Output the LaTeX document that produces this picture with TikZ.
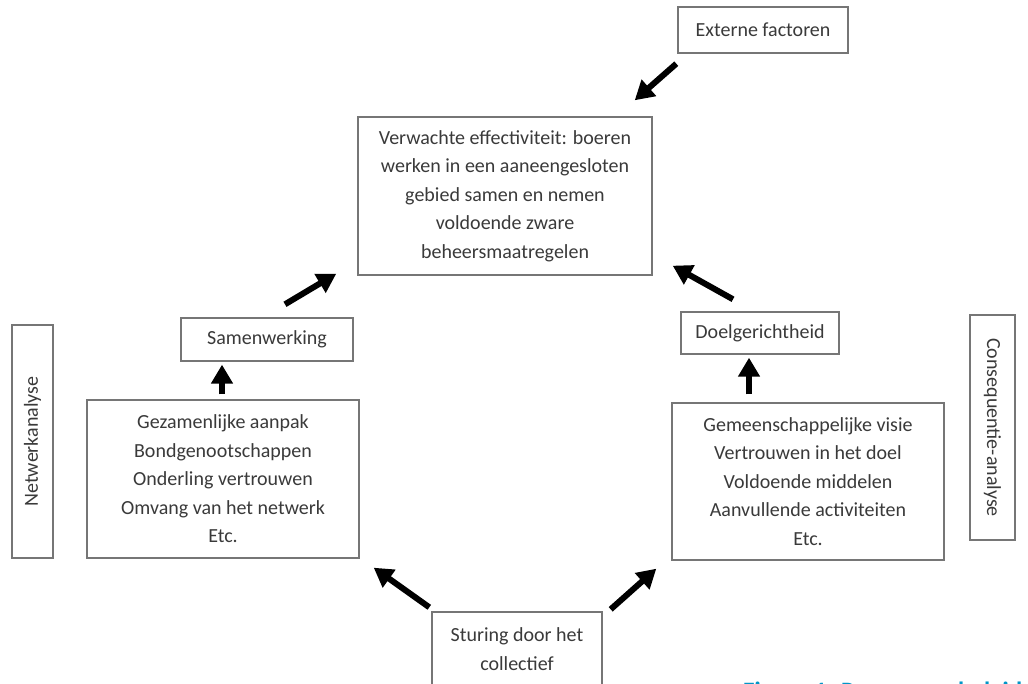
\documentclass[tikz,border=0pt]{standalone}
\usepackage{fontspec}
\setmainfont{Carlito}
\usetikzlibrary{arrows.meta,calc}
\definecolor{txt}{HTML}{3A3A3A}
\definecolor{brd}{HTML}{767676}
\definecolor{capblue}{HTML}{0096C8}
\tikzset{
  box/.style={draw=brd, line width=1.4pt, rectangle, inner sep=0pt, text=txt, align=center,
    font=\fontsize{20}{28.5}\selectfont},
  bigarrow/.style={line width=6pt, -{Triangle[width=21pt,length=19pt]}, black}
}
\begin{document}
\begin{tikzpicture}[x=1pt,y=-1pt]
\useasboundingbox (0,0) rectangle (1028,684);
\clip (0,0) rectangle (1028,684);
\fill[white] (0,0) rectangle (1028,684);
\node[box, minimum width=170pt, minimum height=46pt] (ext) at (763,30) {Externe factoren};
\node[box, minimum width=294pt, minimum height=158pt] (main) at (505,196)
  {Verwachte effectiviteit: boeren\\werken in een aaneengesloten\\gebied samen en nemen\\voldoende zware\\beheersmaatregelen};
\node[box, minimum width=172pt, minimum height=43pt] (sam) at (267,339.5) {Samenwerking};
\node[box, minimum width=158pt, minimum height=42pt] (doel) at (760,333) {Doelgerichtheid};
\node[box, minimum width=272pt, minimum height=158pt] (ll) at (223,479)
  {Gezamenlijke aanpak\\Bondgenootschappen\\Onderling vertrouwen\\Omvang van het netwerk\\Etc.};
\node[box, minimum width=272pt, minimum height=157pt] (rl) at (808,481.5)
  {Gemeenschappelijke visie\\Vertrouwen in het doel\\Voldoende middelen\\Aanvullende activiteiten\\Etc.};
\node[box, rotate=90, minimum width=233pt, minimum height=41pt] (net) at (32.5,441.5) {Netwerkanalyse};
\node[box, rotate=-90, minimum width=225pt, minimum height=45pt] (cons) at (992.5,427.5) {Consequentie-analyse};
\node[box, minimum width=170pt, minimum height=74pt] (stur) at (517,649) {Sturing door het\\collectief};
\node[anchor=base west, text=capblue, inner sep=0pt, font=\fontsize{25}{30}\bfseries\selectfont] (cap) at (743,699) {Figuur 1: Proces van beleid};
% arrows
\draw[bigarrow] ([shift={(-1,10)}]ext.south west) -- ([shift={(-18,-16)}]main.north east);
\draw[bigarrow] ([shift={(18,-13)}]sam.north) -- ([shift={(-21,-2)}]main.south west);
\draw[bigarrow] ([shift={(-27,-12)}]doel.north) -- ([shift={(20,-10)}]main.south east);
\draw[bigarrow] ([shift={(-1,-5)}]ll.north) -- ([shift={(-45,3)}]sam.south);
\draw[bigarrow] ([shift={(-59,-8)}]rl.north) -- ([shift={(-11,3)}]doel.south);
\draw[bigarrow] ([shift={(-2,-4)}]stur.north west) -- ([shift={(14,9)}]ll.south east);
\draw[bigarrow] ([shift={(8,-2)}]stur.north east) -- ([shift={(-15,8)}]rl.south west);
\end{tikzpicture}
\end{document}
